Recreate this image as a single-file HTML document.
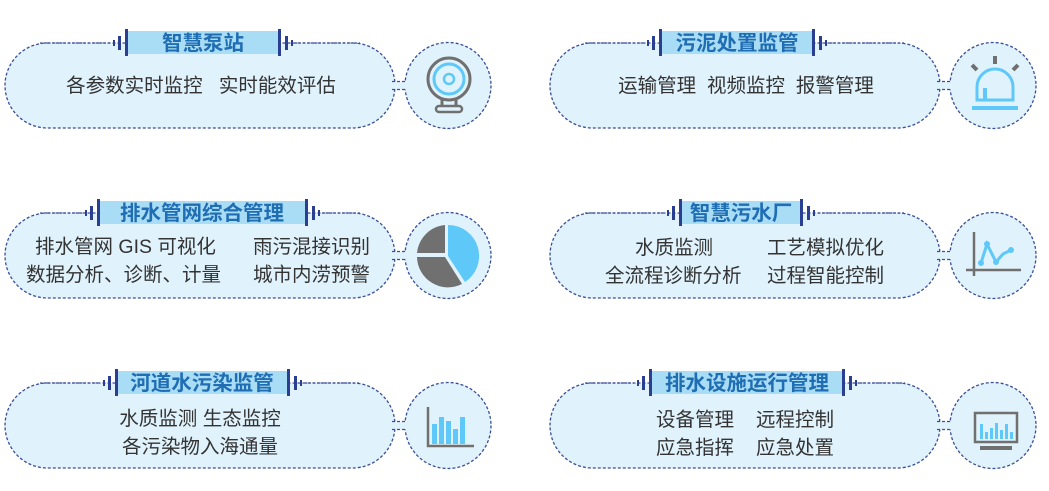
<!DOCTYPE html>
<html><head><meta charset="utf-8"><style>
html,body{margin:0;padding:0;background:#fff;width:1049px;height:491px;overflow:hidden}
svg text{font-family:"Liberation Sans","Noto Sans CJK SC",sans-serif}
.t{font-size:20.5px;font-weight:bold;fill:#1f6db3}
.b{font-size:19.5px;fill:#333}
</style></head><body>
<svg width="1049" height="491" viewBox="0 0 1049 491" xmlns="http://www.w3.org/2000/svg">
<defs>
<g id="unitL">
  <rect x="5" y="0" width="390" height="85" rx="42.5" fill="#e0f2fb" stroke="#3a4f9a" stroke-width="1.3" stroke-dasharray="3,2"/>
  <circle cx="448" cy="42.5" r="43" fill="#e0f2fb" stroke="#3a4f9a" stroke-width="1.3" stroke-dasharray="3,2"/>
  <rect x="392" y="38.5" width="14" height="8" fill="#e0f2fb"/>
  <line x1="392" y1="38.5" x2="406" y2="38.5" stroke="#3a4f9a" stroke-width="1.3" stroke-dasharray="3,2"/>
  <line x1="392" y1="46.5" x2="406" y2="46.5" stroke="#3a4f9a" stroke-width="1.3" stroke-dasharray="3,2"/>
</g>
</defs>

<use href="#unitL" x="0" y="43"/>
<use href="#unitL" x="0" y="213"/>
<use href="#unitL" x="0" y="383"/>
<use href="#unitL" x="545" y="43"/>
<use href="#unitL" x="545" y="213"/>
<use href="#unitL" x="545" y="383"/>

<g stroke="#3a4f9a" stroke-width="1.3" stroke-dasharray="2,2" fill="none">
  <line x1="40" y1="43" x2="110" y2="43"/><line x1="295" y1="43" x2="360" y2="43"/>
  <line x1="40" y1="213" x2="82" y2="213"/><line x1="322" y1="213" x2="360" y2="213"/>
  <line x1="40" y1="383" x2="100" y2="383"/><line x1="305" y1="383" x2="360" y2="383"/>
  <line x1="585" y1="43" x2="644" y2="43"/><line x1="830" y1="43" x2="905" y2="43"/>
  <line x1="585" y1="213" x2="664" y2="213"/><line x1="818" y1="213" x2="905" y2="213"/>
  <line x1="585" y1="383" x2="634" y2="383"/><line x1="860" y1="383" x2="905" y2="383"/>
</g>

<g fill="#a9dcf5">
  <rect x="128" y="31" width="150" height="23"/>
  <rect x="100" y="201" width="205" height="23"/>
  <rect x="118" y="371" width="169" height="23"/>
  <rect x="662" y="31" width="150" height="23"/>
  <rect x="682" y="201" width="118" height="23"/>
  <rect x="652" y="371" width="190" height="23"/>
</g>
<g fill="#2a3f92">
  <rect x="125" y="29" width="3" height="27"/><rect x="118" y="36" width="3" height="14"/><rect x="113" y="40" width="2" height="6"/>
  <rect x="278" y="29" width="3" height="27"/><rect x="285" y="36" width="3" height="14"/><rect x="291" y="40" width="2" height="6"/>
  <rect x="97" y="199" width="3" height="27"/><rect x="90" y="206" width="3" height="14"/><rect x="85" y="210" width="2" height="6"/>
  <rect x="305" y="199" width="3" height="27"/><rect x="312" y="206" width="3" height="14"/><rect x="318" y="210" width="2" height="6"/>
  <rect x="115" y="369" width="3" height="27"/><rect x="108" y="376" width="3" height="14"/><rect x="103" y="380" width="2" height="6"/>
  <rect x="287" y="369" width="3" height="27"/><rect x="294" y="376" width="3" height="14"/><rect x="300" y="380" width="2" height="6"/>
  <rect x="659" y="29" width="3" height="27"/><rect x="652" y="36" width="3" height="14"/><rect x="647" y="40" width="2" height="6"/>
  <rect x="812" y="29" width="3" height="27"/><rect x="819" y="36" width="3" height="14"/><rect x="825" y="40" width="2" height="6"/>
  <rect x="679" y="199" width="3" height="27"/><rect x="672" y="206" width="3" height="14"/><rect x="667" y="210" width="2" height="6"/>
  <rect x="800" y="199" width="3" height="27"/><rect x="807" y="206" width="3" height="14"/><rect x="813" y="210" width="2" height="6"/>
  <rect x="649" y="369" width="3" height="27"/><rect x="642" y="376" width="3" height="14"/><rect x="637" y="380" width="2" height="6"/>
  <rect x="842" y="369" width="3" height="27"/><rect x="849" y="376" width="3" height="14"/><rect x="855" y="380" width="2" height="6"/>
</g>

<g class="t" text-anchor="middle">
  <text x="203" y="50">智慧泵站</text>
  <text x="202" y="220">排水管网综合管理</text>
  <text x="202" y="390">河道水污染监管</text>
  <text x="737" y="50">污泥处置监管</text>
  <text x="741" y="220">智慧污水厂</text>
  <text x="747" y="390">排水设施运行管理</text>
</g>

<g class="b">
  <text x="201" y="92" text-anchor="middle" xml:space="preserve">各参数实时监控   实时能效评估</text>
  <text x="35" y="253">排水管网 GIS 可视化</text>
  <text x="253" y="253">雨污混接识别</text>
  <text x="26" y="281">数据分析、诊断、计量</text>
  <text x="253" y="281">城市内涝预警</text>
  <text x="200" y="425" text-anchor="middle">水质监测 生态监控</text>
  <text x="200" y="453" text-anchor="middle">各污染物入海通量</text>
  <text x="746" y="92" text-anchor="middle" xml:space="preserve">运输管理  视频监控  报警管理</text>
  <text x="635" y="254">水质监测</text>
  <text x="767" y="254">工艺模拟优化</text>
  <text x="605" y="282">全流程诊断分析</text>
  <text x="767" y="282">过程智能控制</text>
  <text x="656" y="426">设备管理</text>
  <text x="756" y="426">远程控制</text>
  <text x="656" y="454">应急指挥</text>
  <text x="756" y="454">应急处置</text>
</g>

<g fill="none">
  <circle cx="449" cy="79" r="21" stroke="#707070" stroke-width="3"/>
  <circle cx="449" cy="79" r="15" stroke="#5ec8f8" stroke-width="3"/>
  <circle cx="449" cy="79" r="5" stroke="#5ec8f8" stroke-width="2.5"/>
  <path d="M442 100 V106 M456 100 V106" stroke="#707070" stroke-width="3"/>
  <rect x="436" y="106" width="26" height="6" rx="3" stroke="#707070" stroke-width="2.5"/>
</g>
<g>
  <rect x="993" y="56" width="4" height="8" fill="#707070"/>
  <path d="M972 65 L977 70 M1018 65 L1013 70" stroke="#707070" stroke-width="4"/>
  <path d="M977 100 V87 A18 18 0 0 1 1013 87 V100 Z" fill="none" stroke="#5ec8f8" stroke-width="3"/>
  <rect x="983" y="88" width="4" height="12" fill="#5ec8f8"/>
  <rect x="972" y="106" width="46" height="4" fill="#5ec8f8"/>
</g>
<g transform="translate(448,256)">
  <path d="M0 0 L0 -31 A31 31 0 0 1 17 26 Z" fill="#5ec8f8"/>
  <path d="M-3 -3 L-3 -31 A31 31 0 0 0 -31 -3 Z" fill="#707070"/>
  <path d="M-3 1 L-31 1 A31 31 0 0 0 14 28 Z" fill="#707070"/>
</g>
<g>
  <path d="M974 232 V276 M966 270 H1021" stroke="#707070" stroke-width="2.5" fill="none"/>
  <polyline points="981,263 987,244 996,262 1003,254 1011,250" fill="none" stroke="#5ec8f8" stroke-width="3"/>
  <g fill="#5ec8f8"><circle cx="981" cy="263" r="3"/><circle cx="987" cy="244" r="3"/><circle cx="996" cy="262" r="3"/><circle cx="1011" cy="250" r="3"/></g>
</g>
<g>
  <path d="M428 407 V446 H474" stroke="#707070" stroke-width="2.5" fill="none"/>
  <g fill="#5ec8f8">
    <rect x="432" y="424" width="5" height="20"/><rect x="439" y="417" width="5" height="27"/>
    <rect x="446" y="421" width="5" height="23"/><rect x="453" y="429" width="5" height="15"/>
    <rect x="460" y="417" width="5" height="27"/>
  </g>
</g>
<g>
  <rect x="975" y="413" width="42" height="29" fill="none" stroke="#707070" stroke-width="2.5"/>
  <rect x="980" y="446" width="32" height="4" fill="#707070"/>
  <g fill="#5ec8f8">
    <rect x="980" y="424" width="3" height="15"/><rect x="985" y="432" width="3" height="7"/>
    <rect x="990" y="428" width="3" height="11"/><rect x="995" y="423" width="3" height="16"/>
    <rect x="1000" y="430" width="3" height="9"/><rect x="1005" y="424" width="3" height="15"/>
    <rect x="1010" y="432" width="3" height="7"/>
  </g>
</g>
</svg>
</body></html>
